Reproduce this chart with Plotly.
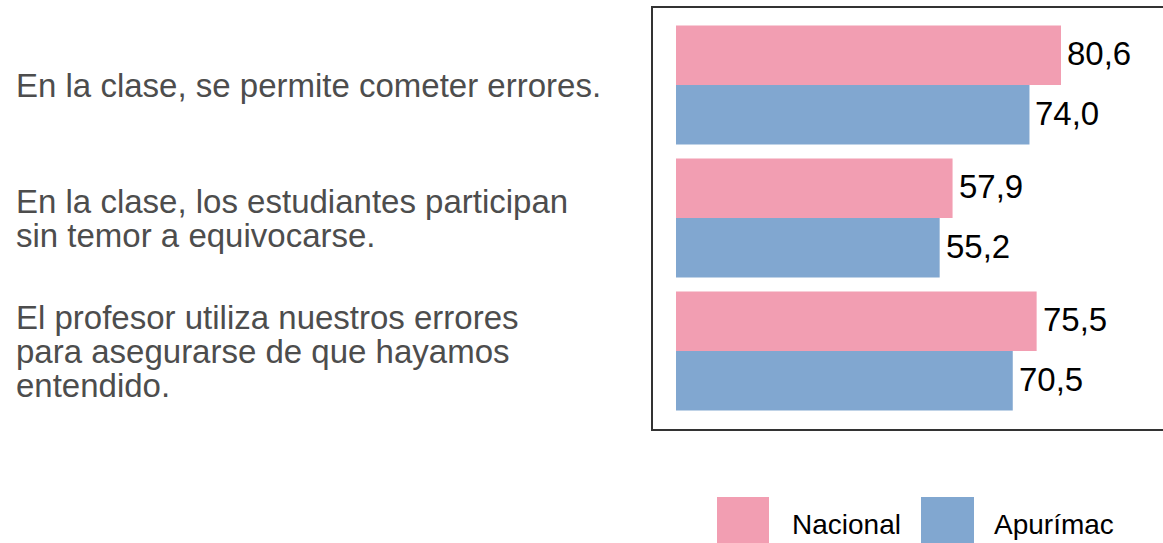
import plotly.graph_objects as go

# Survey items (top to bottom), each split into display lines
items = [
    "En la clase, se permite cometer errores.",
    "En la clase, los estudiantes participan sin temor a equivocarse.",
    "El profesor utiliza nuestros errores para asegurarse de que hayamos entendido.",
]
item_lines = [
    ["En la clase, se permite cometer errores."],
    ["En la clase, los estudiantes participan", "sin temor a equivocarse."],
    ["El profesor utiliza nuestros errores", "para asegurarse de que hayamos", "entendido."],
]
series_names = ["Nacional", "Apurímac"]
nacional = [80.6, 57.9, 75.5]
apurimac = [74.0, 55.2, 70.5]
colors = ["#F29EB2", "#81A7D0"]

W, H = 1163, 543
ML, MR, MT, MB = 652, 0, 7, 113
plot_w = W - ML - MR
plot_h = H - MT - MB

FONT = "Arial, 'Liberation Sans', sans-serif"

fig = go.Figure()
for name, vals, col in zip(series_names, [nacional, apurimac], colors):
    fig.add_trace(go.Bar(
        y=items, x=vals, name=name, orientation="h",
        marker=dict(color=col, line=dict(width=0)),
        showlegend=False, hoverinfo="x+name",
    ))

# value labels to the right of each bar
for vals, shift in [(nacional, 31), (apurimac, -29)]:
    for item, v in zip(items, vals):
        fig.add_annotation(
            x=v, y=item, xref="x", yref="y",
            text=f"{v:.1f}".replace(".", ","),
            showarrow=False, xanchor="left", yanchor="middle",
            xshift=4, yshift=shift,
            font=dict(family=FONT, size=33, color="#000000"),
        )

# left-aligned item labels, one annotation per line for tight leading
LINE_GAP = 34
for item, lines in zip(items, item_lines):
    n = len(lines)
    for k, line in enumerate(lines):
        fig.add_annotation(
            x=(14 - ML) / plot_w, y=item, xref="paper", yref="y",
            text=line, showarrow=False, xanchor="left", yanchor="middle",
            yshift=((n - 1) / 2 - k) * LINE_GAP - 1,
            font=dict(family=FONT, size=33, color="#4D4D4D"),
        )

# panel border (right side runs past the page edge)
fig.add_shape(type="rect", xref="paper", yref="paper",
              x0=0, x1=1.05, y0=0, y1=1,
              line=dict(color="#333333", width=2), fillcolor="rgba(0,0,0,0)",
              layer="above")

# legend keys and labels
def py(pix):
    return (MT + plot_h - pix) / plot_h

def px(pix):
    return (pix - ML) / plot_w

legend_items = [(717, 769, 790, "Nacional", colors[0]), (921, 974, 992, "Apurímac", colors[1])]
for x0, x1, tx, label, col in legend_items:
    fig.add_shape(type="rect", xref="paper", yref="paper",
                  x0=px(x0), x1=px(x1), y0=py(549), y1=py(497),
                  fillcolor=col, line=dict(width=0))
    fig.add_annotation(x=px(tx), y=py(524), xref="paper", yref="paper",
                       text=label, showarrow=False, xanchor="left", yanchor="middle",
                       font=dict(family=FONT, size=28, color="#000000"))

x0_val = -(676 - ML) / ((1061 - 676) / 80.6)
x1_val = (W - 676) / ((1061 - 676) / 80.6)

fig.update_layout(
    width=W, height=H,
    margin=dict(l=ML, r=MR, t=MT, b=MB),
    paper_bgcolor="white", plot_bgcolor="white",
    barmode="group", bargap=0.105, bargroupgap=0,
    xaxis=dict(range=[x0_val, x1_val], showgrid=False, zeroline=False,
               showticklabels=False, ticks=""),
    yaxis=dict(categoryorder="array", categoryarray=items,
               range=[2.594, -0.586], showgrid=False, zeroline=False,
               showticklabels=False, ticks=""),
    font=dict(family=FONT),
)

fig.write_html("out.html")
